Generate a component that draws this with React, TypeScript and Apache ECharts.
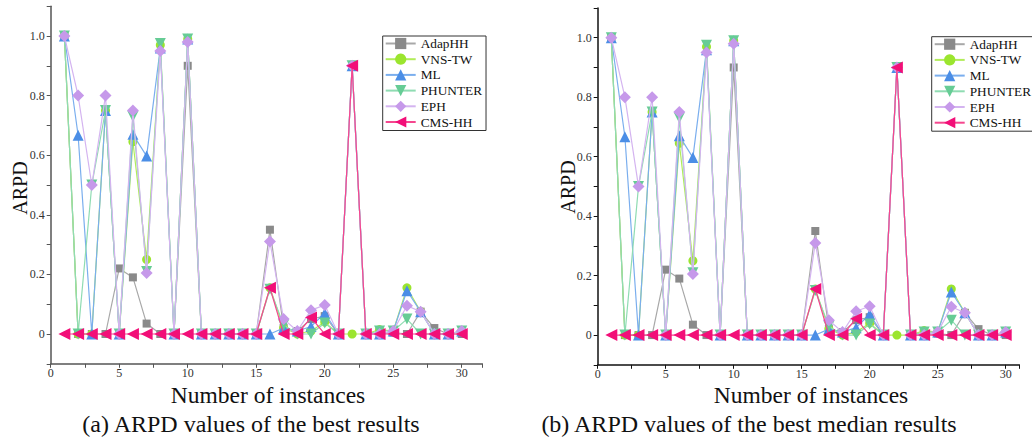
import React, { useEffect, useRef } from "react";
import * as echarts from "echarts";

const instances = [1, 2, 3, 4, 5, 6, 7, 8, 9, 10, 11, 12, 13, 14, 15, 16, 17, 18, 19, 20, 21, 22, 23, 24, 25, 26, 27, 28, 29, 30];

const seriesNames = ["AdapHH", "VNS-TW", "ML", "PHUNTER", "EPH", "CMS-HH"];

const adapHH = [1.0, 0, 0, 0, 0.22, 0.19, 0.035, 0, 0, 0.9, 0, 0, 0, 0, 0, 0.35, 0.02, 0.01, 0.05, 0.06, 0, 0.9, 0, 0, 0.005, 0, 0.075, 0.02, 0, 0];
const vnsTW = [1.0, 0, 0, 0.75, 0, 0.645, 0.25, 0.97, 0, 0.99, 0, 0, 0, 0, 0, 0.155, 0.02, 0, 0.01, 0.04, 0, 0, 0, 0.015, 0.01, 0.155, 0.075, 0, 0, 0.01];
const ml = [1.0, 0.667, 0, 0.75, 0, 0.67, 0.597, 0.96, 0, 0.99, 0, 0, 0, 0, 0, 0, 0.02, 0.01, 0.025, 0.07, 0, 0.9, 0, 0, 0.01, 0.145, 0.075, 0, 0, 0.01];
const phunter = [1.0, 0, 0.5, 0.75, 0, 0.73, 0.21, 0.975, 0, 0.99, 0, 0, 0, 0, 0, 0.15, 0.03, 0, 0, 0.037, 0, 0.9, 0, 0.01, 0.01, 0.05, 0, 0, 0, 0.01];
const eph = [1.0, 0.8, 0.5, 0.8, 0, 0.75, 0.205, 0.95, 0, 0.98, 0, 0, 0, 0, 0, 0.31, 0.05, 0.01, 0.08, 0.097, 0, 0.9, 0, 0, 0.01, 0.095, 0.075, 0, 0, 0.01];
const cmsHH = [0, 0, 0, 0, 0, 0, 0, 0, 0, 0, 0, 0, 0, 0, 0, 0.155, 0, 0, 0.055, 0, 0, 0.9, 0, 0, 0, 0, 0, 0, 0, 0];

const yTicks = ["0", "0.2", "0.4", "0.6", "0.8", "1.0"];
const xTicks = ["0", "5", "10", "15", "20", "25", "30"];

const panelXTitle = "Number of instances";
const panelYTitle = "ARPD";
const captions = ["(a) ARPD values of the best results", "(b) ARPD values of the best median results"];

const valuesBySeries = [adapHH, vnsTW, ml, phunter, eph, cmsHH];

const styles = [
  { symbol: "rect", size: 8, rotate: 0, color: "#8a8a8a", line: "#a8a8a8" },
  { symbol: "circle", size: 9, rotate: 0, color: "#9be52e", line: "#b2ec5a" },
  { symbol: "triangle", size: 11, rotate: 0, color: "#4b8ee6", line: "#7aaeee" },
  { symbol: "triangle", size: 11, rotate: 180, color: "#66cc95", line: "#8fdcb2" },
  { symbol: "diamond", size: 12, rotate: 0, color: "#c699ea", line: "#d4b4f0" },
  { symbol: "triangle", size: 12, rotate: 90, color: "#f20f78", line: "#f5478f" },
];

const serif = "Liberation Serif, serif";

export default function App() {
  const ref = useRef<HTMLDivElement>(null);

  useEffect(() => {
    if (!ref.current) return;
    const chart = echarts.init(ref.current, null, { renderer: "svg" });

    const grids = [
      { left: 50.7, top: 6.2, width: 431.6, height: 357.6 },
      { left: 597.7, top: 8.0, width: 421.6, height: 356.8 },
    ];
    const xMax = [31.5, 31];
    const axisColor = ["#555", "#111"];

    const yLabel = (v: number) => {
      const t = Math.round(v * 10);
      if (t < 0 || t > 10 || t % 2 !== 0) return "";
      return yTicks[t / 2];
    };
    const xLabel = (v: number) => {
      const i = Math.round(v / 5);
      return xTicks[i] ?? "";
    };

    const series: any[] = [];
    [0, 1].forEach((g) => {
      seriesNames.forEach((name, si) => {
        const st = styles[si];
        series.push({
          name,
          type: "line",
          xAxisIndex: g,
          yAxisIndex: g,
          data: instances.map((x, i) => [x, valuesBySeries[si][i]]),
          symbol: st.symbol,
          symbolSize: st.size,
          symbolRotate: st.rotate,
          showAllSymbol: true,
          itemStyle: { color: st.color },
          lineStyle: { color: st.line, width: 1.2 },
          z: 2 + si,
        });
      });
    });

    const legendBase = {
      orient: "vertical",
      data: seriesNames,
      itemWidth: 30,
      itemHeight: 14,
      itemGap: 2.7,
      borderColor: "#333",
      borderWidth: 1,
      borderRadius: 0,
      textStyle: { fontFamily: serif, fontSize: 13.3, color: "#111" },
      backgroundColor: "#fff",
    };

    const txt = (x: number, y: number, text: string, size: number, rotation = 0) => ({
      type: "text",
      x,
      y,
      rotation,
      style: {
        text,
        fontFamily: serif,
        fontSize: size,
        fontWeight: "normal",
        fill: "#111",
        textAlign: "center",
        textVerticalAlign: "middle",
      },
    });

    chart.setOption({
      animation: false,
      backgroundColor: "#fff",
      grid: grids,
      legend: [
        { ...legendBase, left: 382.7, top: 36, padding: [1, 4, 2, 2] },
        { ...legendBase, left: 931.7, top: 36.7, padding: [1, 4, 2, 2] },
      ],
      xAxis: [0, 1].map((g) => ({
        type: "value",
        gridIndex: g,
        min: 0,
        max: xMax[g],
        interval: 5,
        splitLine: { show: false },
        axisLine: { onZero: false, lineStyle: { color: axisColor[g], width: 1.5 } },
        axisTick: { show: true, length: 4, lineStyle: { color: axisColor[g] } },
        minorTick: { show: true, splitNumber: 2, length: 4, lineStyle: { color: axisColor[g] } },
        axisLabel: {
          formatter: xLabel,
          fontFamily: serif,
          fontSize: 12,
          color: "#333",
          margin: 3,
          showMaxLabel: false,
        },
      })),
      yAxis: [0, 1].map((g) => ({
        type: "value",
        gridIndex: g,
        min: -0.1,
        max: 1.1,
        interval: 0.1,
        splitLine: { show: false },
        axisLine: { show: true, onZero: false, lineStyle: { color: axisColor[g], width: 1.5 } },
        axisTick: { show: true, length: 4, lineStyle: { color: axisColor[g] } },
        axisLabel: {
          formatter: yLabel,
          fontFamily: serif,
          fontSize: 12,
          color: "#333",
          margin: 6,
        },
      })),
      graphic: [
        txt(268, 395, panelXTitle, 23.5),
        txt(811, 395, panelXTitle, 23.5),
        txt(251, 424, captions[0], 24),
        txt(749, 424, captions[1], 24),
        txt(20, 188, panelYTitle, 20, Math.PI / 2),
        txt(568, 187, panelYTitle, 20, Math.PI / 2),
      ],
      series,
    });

    return () => chart.dispose();
  }, []);

  return (
    <div
      ref={ref}
      style={{ position: "fixed", left: 0, top: 0, width: 1032, height: 441, background: "#fff" }}
    />
  );
}
